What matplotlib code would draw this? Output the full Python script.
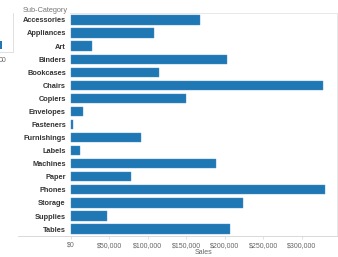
import matplotlib
matplotlib.use('Agg')
import matplotlib.pyplot as plt
from matplotlib.lines import Line2D

sub_categories = ['Accessories', 'Appliances', 'Art', 'Binders', 'Bookcases', 'Chairs',
                  'Copiers', 'Envelopes', 'Fasteners', 'Furnishings', 'Labels', 'Machines',
                  'Paper', 'Phones', 'Storage', 'Supplies', 'Tables']
sales = [167380, 107532, 27119, 203413, 114880, 328449,
         149528, 16476, 3024, 91705, 12486, 189239,
         78479, 330007, 223844, 46674, 206966]
tick_values = [0, 50000, 100000, 150000, 200000, 250000, 300000]
tick_labels = ['$0', '$50,000', '$100,000', '$150,000', '$200,000', '$250,000', '$300,000']

plt.rcParams['font.family'] = ['Liberation Sans', 'DejaVu Sans']

W, H = 338, 257
fig = plt.figure(figsize=(W / 100, H / 100), dpi=100)

# main panel, placed in pixel terms
left, right, top, bottom = 70, 337, 13, 236
ax = fig.add_axes([left / W, 1 - bottom / H, (right - left) / W, (bottom - top) / H])

ax.barh(range(len(sub_categories)), sales, height=0.7, color='#1f77b4', edgecolor='#4a90c8', linewidth=0.3)
ax.set_ylim(len(sub_categories) - 0.47, -0.53)
ax.set_xlim(-1000, 346000)

ax.set_yticks(range(len(sub_categories)))
ax.set_yticklabels(sub_categories, fontsize=5.3, fontweight='bold', color='#333333')
ax.tick_params(axis='y', length=0, pad=3)

ax.set_xticks(tick_values)
ax.set_xticklabels(tick_labels, fontsize=5, color='#666666')
ax.tick_params(axis='x', length=2.5, color='#dddddd', width=0.6, pad=1.5)
ax.set_xlabel('Sales', fontsize=5, color='#666666', labelpad=0.5)

for side in ['top', 'right']:
    ax.spines[side].set_color('#e8e8e8')
    ax.spines[side].set_linewidth(0.7)
ax.spines['left'].set_visible(False)
ax.spines['bottom'].set_color('#d9d9d9')
ax.spines['bottom'].set_linewidth(0.7)

# bottom rule continues left under the header column
fig.add_artist(Line2D([18 / W, left / W], [1 - bottom / H] * 2, color='#d9d9d9', linewidth=0.7))

fig.text(23 / W, 1 - 10 / H, 'Sub-Category', fontsize=5.3, color='#777777', va='center', ha='left')

# fragment of the neighbouring view at the left edge
ax2 = fig.add_axes([-20 / W, 1 - 52 / H, 33 / W, 39 / H])
ax2.barh([-0.1], [0.7], height=0.84, color='#1f77b4')
ax2.set_xlim(0, 1.05)
ax2.set_ylim(-0.8, 3.0)
ax2.set_xticks([])
ax2.set_yticks([])
for side in ['top', 'left']:
    ax2.spines[side].set_visible(False)
for side in ['right', 'bottom']:
    ax2.spines[side].set_color('#e0e0e0')
    ax2.spines[side].set_linewidth(0.7)
fig.text(-1 / W, 1 - 61 / H, '00', fontsize=5, color='#666666', va='center', ha='left')

fig.savefig('out.png', dpi=100)
